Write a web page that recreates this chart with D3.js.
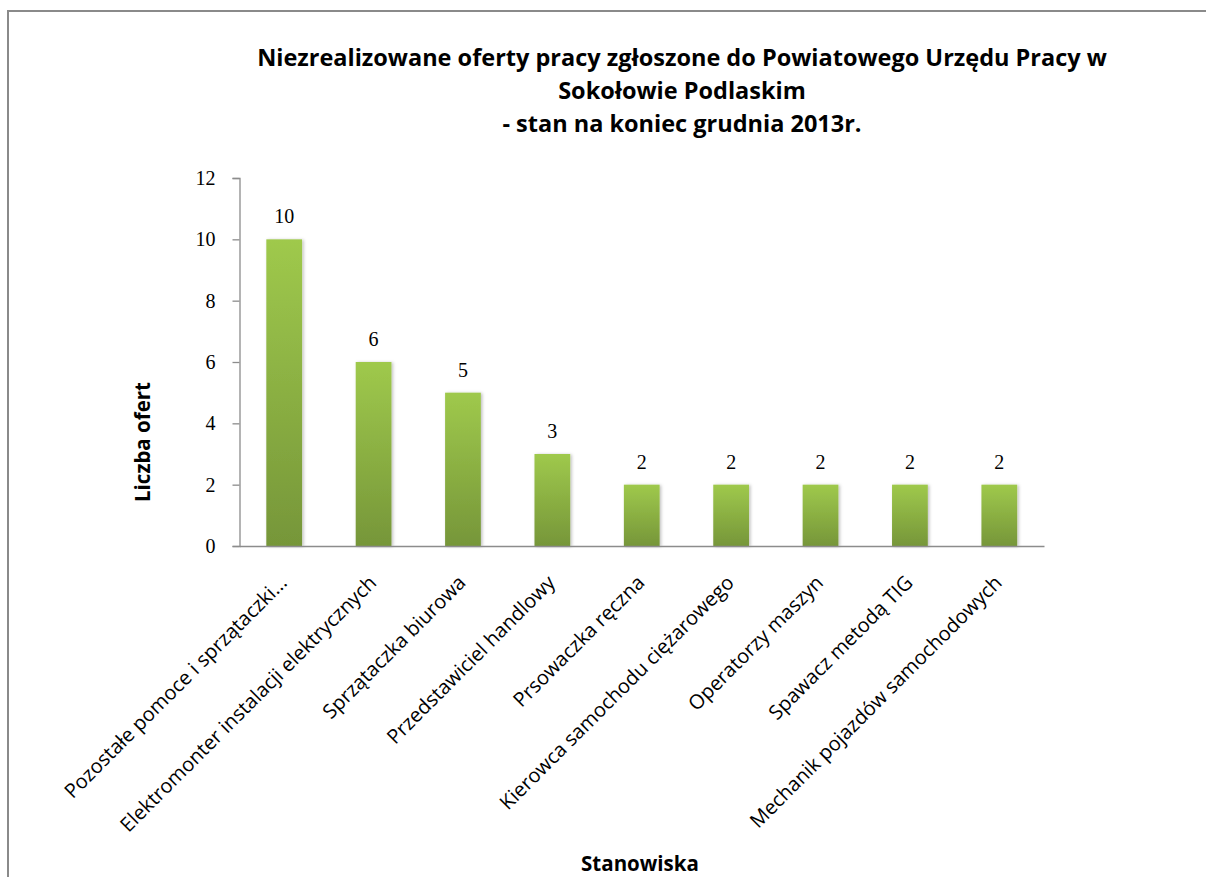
<!DOCTYPE html>
<html>
<head>
<meta charset="utf-8">
<script src="https://cdn.jsdelivr.net/npm/d3@7"></script>
<style>
  html, body { margin: 0; padding: 0; background: #fff; }
  svg { display: block; }
</style>
</head>
<body>
<svg id="chart" width="1206" height="877"></svg>
<script>
const categories = [
  "Pozostałe pomoce i sprzątaczki...",
  "Elektromonter instalacji elektrycznych",
  "Sprzątaczka biurowa",
  "Przedstawiciel handlowy",
  "Prsowaczka ręczna",
  "Kierowca samochodu ciężarowego",
  "Operatorzy maszyn",
  "Spawacz metodą TIG",
  "Mechanik pojazdów samochodowych"
];
const values = [10, 6, 5, 3, 2, 2, 2, 2, 2];
const yTicks = [0, 2, 4, 6, 8, 10, 12];
const titleLines = [
  "Niezrealizowane oferty pracy zgłoszone do Powiatowego Urzędu Pracy w",
  "Sokołowie Podlaskim",
  "- stan na koniec grudnia 2013r."
];
const yTitle = "Liczba ofert";
const xTitle = "Stanowiska";

const svg = d3.select("#chart");

// outer frame
svg.append("rect")
  .attr("x", 8).attr("y", 11).attr("width", 1220).attr("height", 900)
  .attr("fill", "none").attr("stroke", "#8a8a8a").attr("stroke-width", 2);

const defs = svg.append("defs");
const grad = defs.append("linearGradient").attr("id", "barGrad")
  .attr("x1", 0).attr("y1", 0).attr("x2", 0).attr("y2", 1);
grad.append("stop").attr("offset", "0%").attr("stop-color", "#9fc94c");
grad.append("stop").attr("offset", "100%").attr("stop-color", "#769639");
const shadow = defs.append("filter").attr("id", "shadow")
  .attr("x", "-20%").attr("y", "-10%").attr("width", "150%").attr("height", "120%");
shadow.append("feDropShadow").attr("dx", 1.5).attr("dy", 0.5)
  .attr("stdDeviation", 1.5).attr("flood-color", "#000").attr("flood-opacity", 0.25);

const plotLeft = 239.5, plotRight = 1044, plotTop = 178, plotBottom = 546;

const x = d3.scaleBand().domain(categories).range([plotLeft, plotRight]).paddingInner(0.6).paddingOuter(0.3);
const y = d3.scaleLinear().domain([0, 12]).range([plotBottom, plotTop]);

// bars
svg.append("g").selectAll("rect").data(values).join("rect")
  .attr("x", (d, i) => x(categories[i]))
  .attr("y", d => y(d))
  .attr("width", x.bandwidth())
  .attr("height", d => y(0) - y(d))
  .attr("fill", "url(#barGrad)")
  .attr("filter", "url(#shadow)");

// y axis
const yAxis = svg.append("g").attr("transform", `translate(${plotLeft},0)`)
  .call(d3.axisLeft(y).tickValues(yTicks).tickSize(7).tickPadding(17).tickFormat(d3.format("d")));
yAxis.select(".domain").attr("stroke", "#8c8c8c").attr("stroke-width", 1.3);
yAxis.selectAll(".tick line").attr("stroke", "#8c8c8c").attr("stroke-width", 1.3);
yAxis.selectAll(".tick text")
  .attr("font-family", "'Liberation Serif', serif")
  .attr("font-size", 20).attr("fill", "#000");

// x axis
const xAxis = svg.append("g").attr("transform", `translate(0,${plotBottom})`)
  .call(d3.axisBottom(x).tickSize(0).tickPadding(0));
xAxis.select(".domain").attr("stroke", "#8c8c8c").attr("stroke-width", 1.3);
xAxis.selectAll(".tick text")
  .attr("font-family", "'Open Sans', sans-serif")
  .attr("font-size", 20).attr("fill", "#000")
  .attr("text-anchor", "end")
  .attr("dy", 0)
  .attr("transform", d => `translate(${4},38) rotate(-45)`);

// data labels
svg.append("g").selectAll("text").data(values).join("text")
  .attr("x", (d, i) => x(categories[i]) + x.bandwidth() / 2)
  .attr("y", d => y(d) - 16)
  .attr("text-anchor", "middle")
  .attr("font-family", "'Liberation Serif', serif")
  .attr("font-size", 20).attr("fill", "#000")
  .text(d => d);

// title
svg.append("g").selectAll("text").data(titleLines).join("text")
  .attr("x", 682)
  .attr("y", (d, i) => 66 + i * 33)
  .attr("text-anchor", "middle")
  .attr("font-family", "'Open Sans', sans-serif")
  .attr("font-weight", "bold")
  .attr("font-size", 23.5).attr("fill", "#000")
  .text(d => d);

// axis titles
svg.append("text")
  .attr("transform", "translate(150,442) rotate(-90)")
  .attr("text-anchor", "middle")
  .attr("font-family", "'Open Sans', sans-serif")
  .attr("font-weight", "bold").attr("font-size", 20.5).attr("fill", "#000")
  .text(yTitle);

svg.append("text")
  .attr("x", 640).attr("y", 871)
  .attr("text-anchor", "middle")
  .attr("font-family", "'Open Sans', sans-serif")
  .attr("font-weight", "bold").attr("font-size", 20.5).attr("fill", "#000")
  .text(xTitle);
</script>
</body>
</html>
